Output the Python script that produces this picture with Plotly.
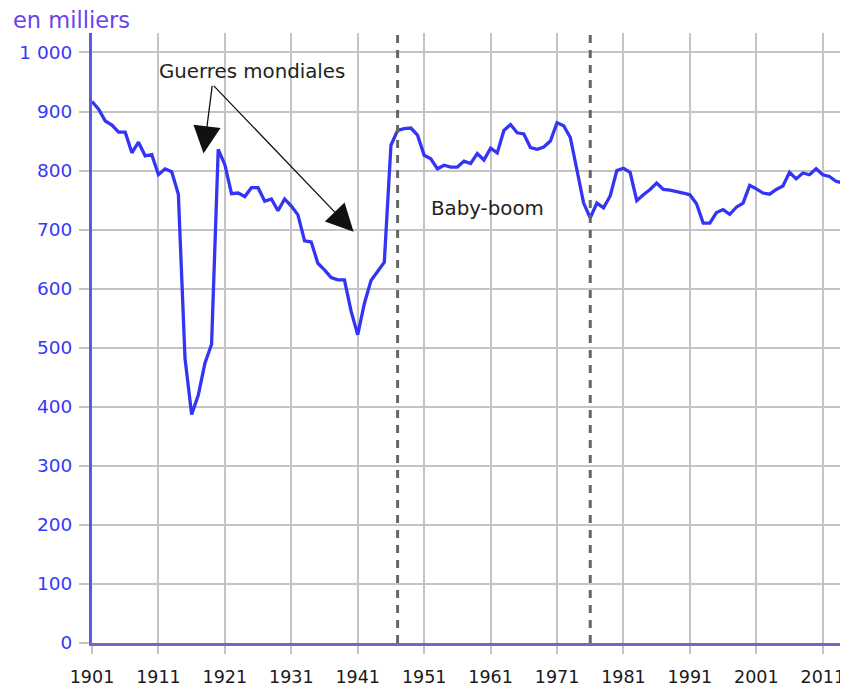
import plotly.graph_objects as go

years = list(range(1901, 2015))
births = [
    917, 904, 884, 877, 865, 865, 830, 848, 825, 827,   # 1901-1910
    793, 803, 798, 760, 482, 387, 420, 474, 506, 836,   # 1911-1920
    810, 761, 762, 756, 771, 771, 748, 752, 732, 752,   # 1921-1930
    740, 725, 681, 679, 643, 632, 619, 615, 615, 562,   # 1931-1940
    522, 575, 614, 630, 645, 843, 868, 871, 872, 860,   # 1941-1950
    826, 820, 803, 809, 806, 806, 816, 812, 829, 818,   # 1951-1960
    838, 830, 868, 878, 864, 862, 839, 836, 840, 850,   # 1961-1970
    881, 876, 856, 801, 745, 720, 745, 737, 757, 800,   # 1971-1980
    804, 797, 749, 759, 768, 779, 768, 767, 765, 762,   # 1981-1990
    759, 744, 711, 711, 729, 734, 726, 738, 745, 775,   # 1991-2000
    769, 762, 760, 768, 774, 797, 786, 796, 793, 803,   # 2001-2010
    793, 790, 782, 779,                                  # 2011-2014
]

x_ticks = list(range(1901, 2012, 10))
x_ticklabels = [str(v) for v in x_ticks]
y_ticks = [0, 100, 200, 300, 400, 500, 600, 700, 800, 900, 1000]
y_ticklabels = ["0", "100", "200", "300", "400", "500", "600", "700", "800", "900", "1 000"]

babyboom_bounds = [1947, 1976]

FONT = "DejaVu Sans"
GRID = "#c4c4c4"

fig = go.Figure()
fig.add_trace(go.Scatter(
    x=years, y=births, mode="lines",
    line=dict(color="#3434f4", width=3.3),
    hoverinfo="x+y", showlegend=False,
))

for b in babyboom_bounds:
    fig.add_shape(type="line", xref="x", yref="paper", x0=b, x1=b, y0=0, y1=1,
                  line=dict(color="#666666", width=3, dash="8px,7px"), layer="above")

# annotations
fig.add_annotation(x=1925.1, y=968, xref="x", yref="y", text="Guerres mondiales",
                   showarrow=False, font=dict(family=FONT, size=19.8, color="#222222"))
arrow_tail = (1919.12, 946)
for tip in [(1917.79, 829), (1940.38, 696.5)]:
    fig.add_annotation(x=tip[0], y=tip[1], xref="x", yref="y",
                       ax=arrow_tail[0], ay=arrow_tail[1], axref="x", ayref="y",
                       text="", showarrow=True, arrowhead=2, arrowsize=4.2,
                       arrowwidth=1.3, arrowcolor="#111111", standoff=0)
fig.add_annotation(x=1960.6, y=736, xref="x", yref="y", text="Baby-boom",
                   showarrow=False, font=dict(family=FONT, size=19.8, color="#222222"))
fig.add_annotation(x=-0.1076, y=1.0213, xref="paper", yref="paper", xanchor="left",
                   yanchor="middle", text="en milliers", showarrow=False,
                   font=dict(family=FONT, size=22.5, color="#6a42f0"))

fig.update_xaxes(
    range=[1901, 2014.8], tickmode="array", tickvals=x_ticks, ticktext=x_ticklabels,
    showgrid=True, gridcolor=GRID, gridwidth=2, zeroline=False,
    showline=True, linecolor="#6a6ac8", linewidth=3,
    ticks="outside", ticklen=8, tickwidth=2, tickcolor=GRID,
    ticklabelstandoff=8,
    tickfont=dict(family=FONT, size=17.5, color="#1a1a1a"),
)
fig.update_yaxes(
    range=[0, 1033], tickmode="array", tickvals=y_ticks, ticktext=y_ticklabels,
    showgrid=True, gridcolor=GRID, gridwidth=2, zeroline=False,
    showline=True, linecolor="#5a5ae8", linewidth=3,
    ticks="outside", ticklen=10, tickwidth=2, tickcolor=GRID,
    ticklabelstandoff=3,
    tickfont=dict(family=FONT, size=18.5, color="#3838f8"),
)
# page body adds an 8px margin, so the figure is 8px smaller than the window
fig.update_layout(
    width=840, height=679,
    margin=dict(l=84, r=0, t=25, b=44),
    paper_bgcolor="white", plot_bgcolor="white",
    font=dict(family=FONT),
)
fig.write_html("out.html")
